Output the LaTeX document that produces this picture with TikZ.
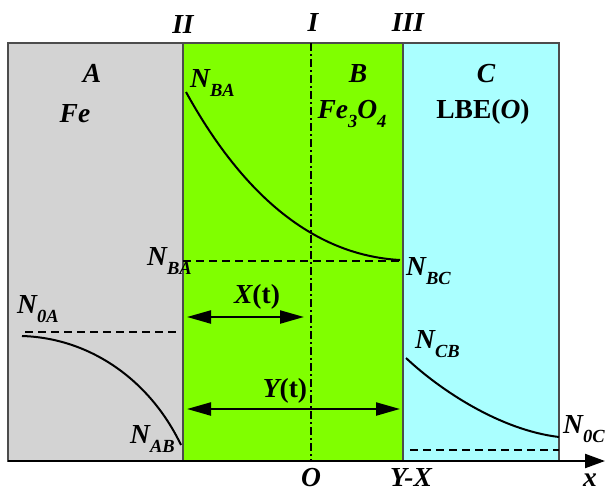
\documentclass[tikz,border=0pt]{standalone}
\usepackage{fontspec}
\setmainfont{Liberation Serif}
\usetikzlibrary{arrows.meta}

\definecolor{layerA}{HTML}{D3D3D3}
\definecolor{layerB}{HTML}{80FF00}
\definecolor{layerC}{HTML}{AAFFFF}

\newcommand{\subl}[1]{\raisebox{-0.36em}{\fontsize{18.5}{18.5}\selectfont #1}}

\tikzset{
  lbl/.style={font=\bfseries\itshape\fontsize{27.5}{29}\selectfont,inner sep=0pt,anchor=base},
  conc/.style={lbl,anchor=base west},
  curve/.style={line width=2pt},
  level/.style={line width=2pt,dash pattern=on 8pt off 5pt},
  span/.style={line width=2.2pt,{Triangle[length=24pt,width=13pt]}-{Triangle[length=24pt,width=13pt]}},
}

\begin{document}
\begin{tikzpicture}[x=1pt,y=-1pt]
  \useasboundingbox (0,0) rectangle (605,491);

  % layers
  \path[fill=layerA] (8,43) rectangle (183,461);
  \path[fill=layerB] (183,43) rectangle (403,461);
  \path[fill=layerC] (403,43) rectangle (559,461);
  \path[draw,gray!60!black,line width=1.2pt] (8,43) rectangle (559,461);
  \path[draw,gray!60!black,line width=1.2pt] (183,43) -- (183,461) (403,43) -- (403,461);

  % interfaces and axis
  \coordinate (itop) at (311,43);
  \coordinate (O) at (311,461);
  \coordinate (xstart) at (8,461);
  \coordinate (xend) at (605,461);
  \path[draw,line width=2pt,dash pattern=on 8pt off 3pt on 2pt off 3pt] (itop) -- (O);
  \path[draw,line width=2.2pt,-{Triangle[length=20pt,width=14pt]}] (xstart) -- (xend);

  \node[lbl] (ii) at (183,33) {II};
  \node[lbl] (i) at (313,31) {I};
  \node[lbl] (iii) at (408,31) {III};

  \node[lbl] (a) at (92,82) {A};
  \node[lbl] (fe) at (75,122) {Fe};
  \node[lbl] (b) at (358,82) {B};
  \node[lbl] (feo) at (352,118) {Fe\subl{3}O\subl{4}};
  \node[lbl] (c) at (486,82) {C};
  \node[lbl] (lbe) at (483,118) {\upshape LBE(\itshape O\upshape)};

  \node[lbl] (o) at (311,486) {O};
  \node[lbl] (yx) at (411,486) {Y-X};
  \node[lbl] (x) at (590,486) {x};

  % concentrations
  \node[conc] (nbatop) at (190,87) {N\subl{BA}};
  \node[conc] (nba) at (147,265) {N\subl{BA}};
  \node[conc] (n0a) at (17,313) {N\subl{0A}};
  \node[conc] (nab) at (130,443) {N\subl{AB}};
  \node[conc] (nbc) at (406,275) {N\subl{BC}};
  \node[conc] (ncb) at (415,348) {N\subl{CB}};
  \node[conc] (n0c) at (563,433) {N\subl{0C}};

  \coordinate (bs) at (186,92);
  \coordinate (be) at (400,260);
  \coordinate (as) at (22,336);
  \coordinate (ae) at (181,445);
  \coordinate (cs) at (406,358);
  \coordinate (ce) at (559,437);
  \path[draw,curve] (bs) .. controls (240,190) and (310,255) .. (be);
  \path[draw,curve] (as) .. controls (90,338) and (150,380) .. (ae);
  \path[draw,curve] (cs) .. controls (440,390) and (500,430) .. (ce);

  \coordinate (la1) at (25,332);
  \coordinate (la2) at (176,332);
  \coordinate (lb1) at (183,261);
  \coordinate (lb2) at (403,261);
  \coordinate (lc1) at (410,450);
  \coordinate (lc2) at (559,450);
  \path[draw,level] (la1) -- (la2);
  \path[draw,level] (lb1) -- (lb2);
  \path[draw,level] (lc1) -- (lc2);

  % growth
  \coordinate (x1) at (187,317);
  \coordinate (x2) at (304,317);
  \coordinate (y1) at (187,409);
  \coordinate (y2) at (400,409);
  \path[draw,span] (x1) -- (x2);
  \path[draw,span] (y1) -- (y2);
  \node[lbl] (xt) at (257,303) {X\upshape(t)};
  \node[lbl] (yt) at (285,397) {Y\upshape(t)};
\end{tikzpicture}
\end{document}
